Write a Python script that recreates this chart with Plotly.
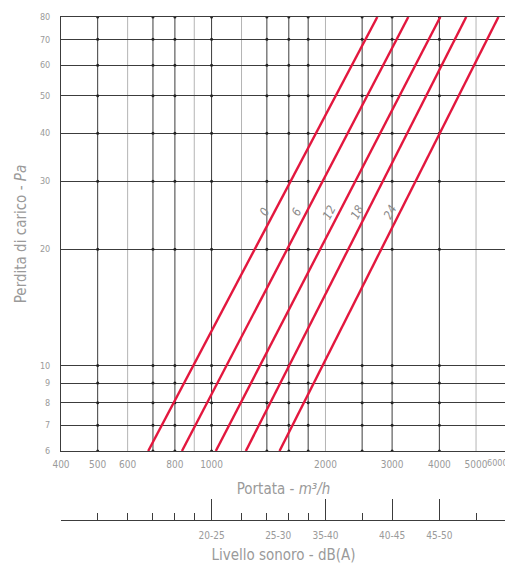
import math
import plotly.graph_objects as go

# ---------------- data ----------------
curve_labels = ["0", "6", "12", "18", "24"]
flow_at_p_min = [680, 835, 1026, 1232, 1512]      # m3/h at 6 Pa
flow_at_p_max = [2742, 3311, 4023, 4710, 5730]    # m3/h at 80 Pa
p_min, p_max = 6, 80
label_pressure = 25

x_tick_vals = [400, 500, 600, 800, 1000, 2000, 3000, 4000, 5000]
x_tick_text = ["400", "500", "600", "800", "1000", "2000", "3000", "4000", "5000"]
x_edge_val, x_edge_text = 6000, "6000"
x_grid_dark = [500, 700, 800, 1000, 1400, 1600, 1800, 2500, 3000, 4000]
x_grid_light = [600, 900, 1200, 2000, 5000]
y_tick_vals = [6, 7, 8, 9, 10, 20, 30, 40, 50, 60, 70, 80]

sound_long_ticks = [1000, 2000, 3000, 4000]
sound_short_ticks = [400, 500, 600, 700, 800, 900, 1200, 1400, 1600, 1800, 2500, 5000, 6000]
sound_label_flows = [1000, 1500, 2000, 3000, 4000]
sound_labels = ["20-25", "25-30", "35-40", "40-45", "45-50"]

# ---------------- style ----------------
FONT = "Liberation Sans Narrow, DejaVu Sans Condensed, Arial Narrow, sans-serif"
TXT = "#9a9a9a"
RED = "#e3173e"
DARK = "#3c3c3c"
LIGHT = "#b4b4b4"

OFF = 8  # page body margin
W, H = 513 - OFF, 564 - OFF
xr = [math.log10(400), math.log10(6000)]
ml = 61 - OFF
mr = W - (506 - OFF)
mt = 17 - OFF
mb = 12
paper_bottom = H - mb
paper_h = H - mt - mb
plot_bottom_px = 451 - OFF
y_dom0 = (paper_bottom - plot_bottom_px) / paper_h
sound_axis_px = 520 - OFF
sound_pos = (paper_bottom - sound_axis_px) / paper_h

fig = go.Figure()

# intersection dots
dx, dy = [], []
for xv in x_grid_dark:
    for yv in y_tick_vals:
        dx.append(xv)
        dy.append(yv)
fig.add_trace(go.Scatter(x=dx, y=dy, mode="markers",
                         marker=dict(size=3, color="#222"),
                         hoverinfo="skip", showlegend=False))

# red curves
for lab, q0, q1 in zip(curve_labels, flow_at_p_min, flow_at_p_max):
    fig.add_trace(go.Scatter(x=[q0, q1], y=[p_min, p_max], mode="lines",
                             line=dict(color=RED, width=2.4),
                             name=lab, showlegend=False))
    f = (math.log10(label_pressure) - math.log10(p_min)) / (math.log10(p_max) - math.log10(p_min))
    lq = math.log10(q0) + f * (math.log10(q1) - math.log10(q0))
    fig.add_annotation(x=lq, y=math.log10(label_pressure), xref="x", yref="y",
                       text="<i>" + lab + "</i>", showarrow=False, textangle=-62,
                       xshift=-10, font=dict(family=FONT, size=12, color="#8a8a8a"))

# last x tick label kept inside the page
fig.add_annotation(x=math.log10(x_edge_val), y=0, xref="x", yref="y domain",
                   text=x_edge_text, showarrow=False, xanchor="right", yanchor="top",
                   xshift=4, yshift=-5,
                   font=dict(family=FONT, size=9, color=TXT))

# grid shapes
for xv in x_grid_light:
    fig.add_shape(type="line", xref="x", yref="y domain", x0=xv, x1=xv, y0=0, y1=1,
                  line=dict(color=LIGHT, width=1), layer="below")
for xv in x_grid_dark:
    fig.add_shape(type="line", xref="x", yref="y domain", x0=xv, x1=xv, y0=0, y1=1,
                  line=dict(color=DARK, width=1), layer="below")

# secondary (sound level) axis helpers
fig.add_trace(go.Scatter(x=[400, 6000], y=[None, None], xaxis="x2", yaxis="y",
                         showlegend=False, hoverinfo="skip"))
fig.add_trace(go.Scatter(x=[400, 6000], y=[None, None], xaxis="x3", yaxis="y",
                         showlegend=False, hoverinfo="skip"))

fig.update_layout(
    width=W, height=H,
    margin=dict(l=ml, r=mr, t=mt, b=mb),
    paper_bgcolor="white", plot_bgcolor="white",
    font=dict(family=FONT, color=TXT, size=10),
    xaxis=dict(type="log", range=xr, domain=[0, 1], anchor="y",
               tickmode="array", tickvals=x_tick_vals, ticktext=x_tick_text,
               showgrid=False, showline=True, mirror=True, linecolor=DARK, linewidth=1,
               ticks="outside", ticklen=4, tickcolor="rgba(0,0,0,0)",
               tickfont=dict(family=FONT, size=10, color=TXT),
               title=dict(text="Portata - <i>m³/h</i>", standoff=14,
                          font=dict(family=FONT, size=15, color=TXT)),
               automargin=False),
    yaxis=dict(type="log", range=[math.log10(6), math.log10(80)], domain=[y_dom0, 1],
               tickmode="array", tickvals=y_tick_vals, ticktext=[str(v) for v in y_tick_vals],
               showgrid=True, gridcolor=DARK, gridwidth=1,
               showline=True, mirror=True, linecolor=DARK, linewidth=1,
               ticks="outside", ticklen=8, tickcolor="rgba(0,0,0,0)",
               tickfont=dict(family=FONT, size=9, color=TXT),
               title=dict(text="Perdita di carico - <i>Pa</i>", standoff=9,
                          font=dict(family=FONT, size=15, color=TXT)),
               automargin=False, zeroline=False),
    xaxis2=dict(type="log", range=xr, overlaying="x", anchor="free", position=sound_pos,
                side="bottom", showgrid=False, showline=True, linecolor=DARK, linewidth=1,
                tickmode="array", tickvals=sound_long_ticks, ticks="inside", ticklen=21,
                tickcolor=DARK, tickwidth=1, showticklabels=False,
                minor=dict(tickmode="array", tickvals=sound_short_ticks, ticks="inside",
                           ticklen=7, tickcolor=DARK, tickwidth=1, showgrid=False),
                automargin=False, zeroline=False),
    xaxis3=dict(type="log", range=xr, overlaying="x", anchor="free", position=sound_pos,
                side="bottom", showgrid=False, showline=False,
                tickmode="array", tickvals=sound_label_flows, ticktext=sound_labels,
                ticks="outside", ticklen=6, tickcolor="rgba(0,0,0,0)",
                tickfont=dict(family=FONT, size=10, color=TXT),
                title=dict(text="Livello sonoro - dB(A)", standoff=9,
                           font=dict(family=FONT, size=15, color=TXT)),
                automargin=False, zeroline=False),
)

fig.write_html("out.html")
